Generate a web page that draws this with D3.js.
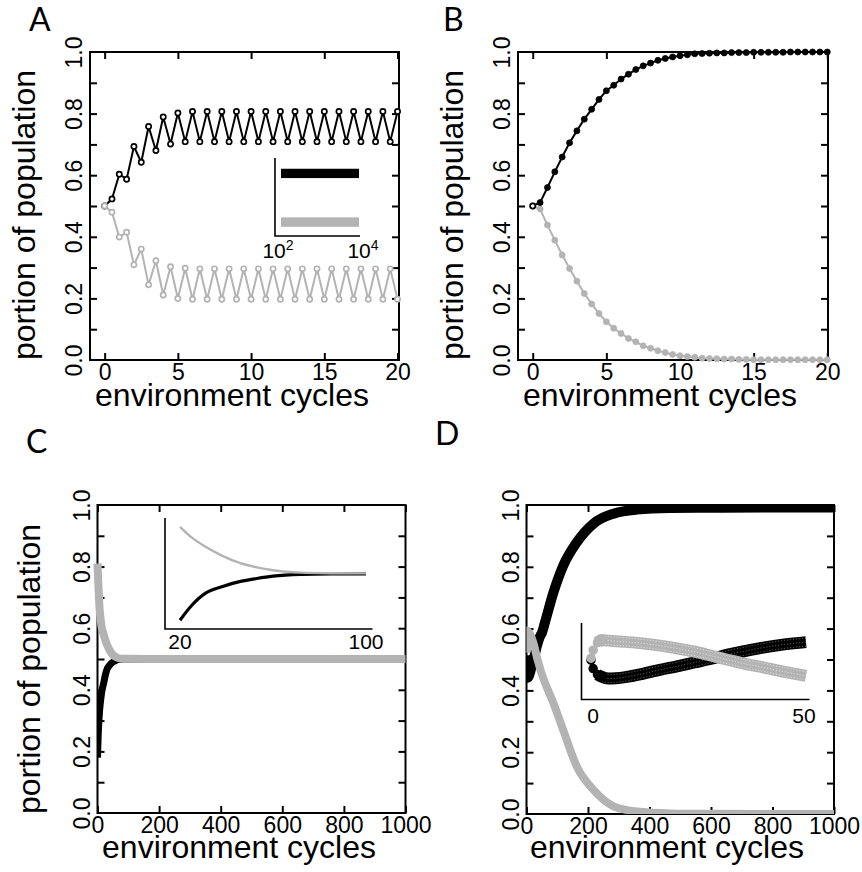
<!DOCTYPE html>
<html>
<head>
<meta charset="utf-8">
<script src="https://cdn.jsdelivr.net/npm/d3@7"></script>
<style>
  body { margin: 0; background: #fff; }
  svg { display: block; }
</style>
</head>
<body>
<script>
// ---------- data ----------
// panels A and B: sampled every half cycle
var cyclesAB = [0, 0.5, 1, 1.5, 2, 2.5, 3, 3.5, 4, 4.5, 5, 5.5, 6, 6.5, 7, 7.5, 8, 8.5, 9, 9.5,
                10, 10.5, 11, 11.5, 12, 12.5, 13, 13.5, 14, 14.5, 15, 15.5, 16, 16.5, 17, 17.5,
                18, 18.5, 19, 19.5, 20];

var aBlack = [0.5, 0.523, 0.603, 0.587, 0.693, 0.642, 0.758, 0.680, 0.789, 0.701, 0.802, 0.709,
              0.807, 0.709, 0.807, 0.709, 0.807, 0.709, 0.807, 0.709, 0.807, 0.709, 0.807, 0.709,
              0.807, 0.709, 0.807, 0.709, 0.807, 0.709, 0.807, 0.709, 0.807, 0.709, 0.807, 0.709,
              0.807, 0.709, 0.807, 0.709, 0.807];
var aGray = [0.5, 0.480, 0.399, 0.415, 0.309, 0.360, 0.244, 0.322, 0.211, 0.303, 0.200, 0.298,
             0.197, 0.296, 0.197, 0.296, 0.197, 0.296, 0.197, 0.296, 0.197, 0.296, 0.197, 0.296,
             0.197, 0.296, 0.197, 0.296, 0.197, 0.296, 0.197, 0.296, 0.197, 0.296, 0.197, 0.296,
             0.197, 0.296, 0.197, 0.296, 0.197];

// inset of A: long run, 10^2 .. 10^4 cycles, oscillation bands
var insetASpan = [100, 10000];
var insetABlackBand = [0.709, 0.807];
var insetAGrayBand = [0.197, 0.296];

var bBlack = [0.5, 0.511, 0.560, 0.611, 0.659, 0.705, 0.744, 0.782, 0.814, 0.846, 0.874, 0.892,
              0.912, 0.928, 0.943, 0.955, 0.964, 0.973, 0.979, 0.984, 0.988, 0.991, 0.994, 0.995,
              0.996, 0.997, 0.997, 0.998, 0.998, 0.998, 0.999, 0.999, 0.999, 0.999, 0.999, 1,
              1, 1, 1, 1, 1];
var bGray = [0.5, 0.490, 0.438, 0.389, 0.341, 0.297, 0.256, 0.216, 0.182, 0.151, 0.124, 0.103,
             0.086, 0.070, 0.059, 0.046, 0.038, 0.030, 0.024, 0.018, 0.014, 0.011, 0.009, 0.006,
             0.005, 0.004, 0.003, 0.003, 0.002, 0.002, 0.001, 0.001, 0.001, 0.001, 0.001, 0.001,
             0.001, 0.001, 0.001, 0.001, 0.001];

// panel C
var cCycles = [0, 2, 4, 7, 10, 14, 20, 25, 31, 38, 46, 53, 60, 72, 85, 100, 200, 400, 600, 800, 1000];
var cGray = [0.81, 0.76, 0.715, 0.66, 0.63, 0.60, 0.58, 0.562, 0.546, 0.531, 0.518, 0.511,
             0.506, 0.502, 0.501, 0.5007, 0.5, 0.5, 0.5, 0.5, 0.5];
var cBlack = [0.18, 0.245, 0.29, 0.335, 0.365, 0.395, 0.421, 0.446, 0.467, 0.478, 0.487, 0.492,
              0.496, 0.499, 0.4998, 0.5, 0.5, 0.5, 0.5, 0.5, 0.5];
var insetCRange = [20, 100];

// panel D
var dCycles = [0, 0.5, 1.5, 2.5, 4, 8, 12, 16, 20, 24, 28, 32, 36, 40, 45, 50,
               60, 87, 120, 164, 218, 283, 359, 468, 600, 800, 1000];
var dGray = [0.522, 0.554, 0.584, 0.594, 0.592, 0.587, 0.581, 0.572, 0.561, 0.548, 0.532, 0.515,
             0.499, 0.486, 0.468, 0.452,
             0.425, 0.36, 0.27, 0.153, 0.078, 0.025, 0.008, 0.002, 0.0005, 0, 0];
var dBlack = [0.514, 0.481, 0.457, 0.448, 0.441, 0.447, 0.460, 0.476, 0.490, 0.505, 0.520, 0.537,
              0.551, 0.564, 0.577, 0.586,
              0.62, 0.715, 0.805, 0.88, 0.94, 0.972, 0.985, 0.99, 0.991, 0.992, 0.992];
var insetDRange = [0, 50];

var xTicksAB = [0, 5, 10, 15, 20],
    xTicksCD = [0, 200, 400, 600, 800, 1000],
    yMinor = [0.1, 0.2, 0.3, 0.4, 0.5, 0.6, 0.7, 0.8, 0.9],
    yLabels = [0, 0.2, 0.4, 0.6, 0.8, 1.0];

// ---------- drawing ----------
var width = 862,
    height = 872,
    GRAY = '#b3b3b3',
    FONT = '"Liberation Sans", Arial, Helvetica, sans-serif',
    svg = d3.select('body').append('svg')
        .attr('width', width)
        .attr('height', height);

function zip(xs, ys) {
    return xs.map(function (d, i) { return {x: d, y: ys[i]}; });
}

// box with inward ticks on all four sides, labels outside
function frame(x, y, xTicks, xTitlePos, yTitlePos) {
    var g = svg.append('g');
    var x0 = x.range()[0], x1 = x.range()[1],
        y0 = y.range()[1], y1 = y.range()[0];

    var tl = 7;
    g.append('g').attr('transform', 'translate(' + x0 + ',0)')
        .call(d3.axisLeft(y).tickValues(yMinor).tickSize(-tl).tickFormat(''));
    g.append('g').attr('transform', 'translate(' + x1 + ',0)')
        .call(d3.axisRight(y).tickValues(yMinor).tickSize(-tl).tickFormat(''));
    g.append('g').attr('transform', 'translate(0,' + y0 + ')')
        .call(d3.axisTop(x).tickValues(xTicks).tickSize(-tl).tickFormat(''));
    g.append('g').attr('transform', 'translate(0,' + y1 + ')')
        .call(d3.axisBottom(x).tickValues(xTicks).tickSize(-tl).tickFormat(''));
    g.selectAll('.domain').remove();
    g.selectAll('.tick line').attr('stroke', '#000').attr('stroke-width', 2);

    // x labels
    var xl = g.append('g').attr('transform', 'translate(0,' + y1 + ')')
        .call(d3.axisBottom(x).tickValues(xTicks).tickSize(0).tickPadding(4)
              .tickFormat(d3.format('d')));
    // y labels, rotated
    var yl = g.append('g').attr('transform', 'translate(' + x0 + ',0)')
        .call(d3.axisLeft(y).tickValues(yLabels).tickSize(0).tickFormat(d3.format('.1f')));
    yl.selectAll('text')
        .attr('transform', 'rotate(-90)')
        .attr('x', 0).attr('y', -8).attr('dy', 0)
        .attr('text-anchor', 'middle');
    [xl, yl].forEach(function (a) {
        a.select('.domain').remove();
        a.attr('font-family', FONT).attr('font-size', 23);
        a.selectAll('text').attr('fill', '#000');
    });

    g.append('rect')
        .attr('x', x0).attr('y', y0)
        .attr('width', x1 - x0).attr('height', y1 - y0)
        .attr('fill', 'none').attr('stroke', '#000').attr('stroke-width', 2);

    g.append('text')
        .attr('x', xTitlePos[0]).attr('y', xTitlePos[1])
        .attr('text-anchor', 'middle')
        .attr('font-family', FONT).attr('font-size', 32)
        .text('environment cycles');
    if (yTitlePos) {
        g.append('text')
            .attr('transform', 'translate(' + yTitlePos[0] + ',' + yTitlePos[1] + ') rotate(-90)')
            .attr('text-anchor', 'middle')
            .attr('font-family', FONT).attr('font-size', 32)
            .text('portion of population');
    }
}

function letter(t, px, py) {
    svg.append('text')
        .attr('x', px).attr('y', py)
        .attr('font-family', 'Lato, "Noto Sans", sans-serif')
        .attr('font-size', 32)
        .text(t);
}

function insetAxes(box) {
    svg.append('path')
        .attr('d', 'M' + box.x0 + ',' + box.y0 + 'V' + box.y1 + 'H' + box.x1)
        .attr('fill', 'none').attr('stroke', '#000').attr('stroke-width', 1.6);
}

function insetLabel(txt, px, py, sup) {
    var t = svg.append('text')
        .attr('x', px).attr('y', py)
        .attr('text-anchor', 'middle')
        .attr('font-family', FONT).attr('font-size', 21)
        .text(txt);
    if (sup) {
        t.append('tspan').attr('dy', -8).attr('font-size', 14).text(sup);
    }
}

function clipFor(id, x, y) {
    svg.append('clipPath').attr('id', id).append('rect')
        .attr('x', x.range()[0]).attr('y', y.range()[1])
        .attr('width', x.range()[1] - x.range()[0])
        .attr('height', y.range()[0] - y.range()[1]);
    return 'url(#' + id + ')';
}

// ---------- panel A ----------
(function () {
    var x = d3.scaleLinear().domain([-1, 20.1]).range([90, 399]),
        y = d3.scaleLinear().domain([0, 1]).range([360, 52]);
    frame(x, y, xTicksAB, [232, 406], [35, 215]);
    letter('A', 29, 31);

    var line = d3.line().x(function (d) { return x(d.x); }).y(function (d) { return y(d.y); });
    var series = [{v: aBlack, c: '#000'}, {v: aGray, c: GRAY}];
    series.forEach(function (s) {
        var pts = zip(cyclesAB, s.v);
        svg.append('path').datum(pts).attr('d', line)
            .attr('fill', 'none').attr('stroke', s.c).attr('stroke-width', 2);
        svg.append('g').selectAll('circle').data(pts).enter().append('circle')
            .attr('cx', function (d) { return x(d.x); })
            .attr('cy', function (d) { return y(d.y); })
            .attr('r', 2.6)
            .attr('fill', '#fff').attr('stroke', s.c).attr('stroke-width', 1.7);
    });

    // inset
    var box = {x0: 275, x1: 360, y0: 158, y1: 236};
    var xi = d3.scaleLog().domain(insetASpan).range([281, 359]),
        yi = d3.scaleLinear().domain([0.1, 0.92]).range([box.y1, box.y0]);
    insetAxes(box);
    [{b: insetABlackBand, c: '#000'}, {b: insetAGrayBand, c: GRAY}].forEach(function (s) {
        svg.append('rect')
            .attr('x', xi(insetASpan[0])).attr('width', xi(insetASpan[1]) - xi(insetASpan[0]))
            .attr('y', yi(s.b[1])).attr('height', yi(s.b[0]) - yi(s.b[1]))
            .attr('fill', s.c);
    });
    insetLabel('10', xi(insetASpan[0]) - 3, 258, '2');
    insetLabel('10', xi(insetASpan[1]) + 4, 258, '4');
})();

// ---------- panel B ----------
(function () {
    var x = d3.scaleLinear().domain([-1, 20.05]).range([518, 828]),
        y = d3.scaleLinear().domain([0, 1]).range([360, 52]);
    frame(x, y, xTicksAB, [660, 406], [463, 215]);
    letter('B', 443, 31);

    var line = d3.line().x(function (d) { return x(d.x); }).y(function (d) { return y(d.y); });
    [{v: bGray, c: GRAY}, {v: bBlack, c: '#000'}].forEach(function (s) {
        var pts = zip(cyclesAB, s.v);
        svg.append('path').datum(pts).attr('d', line)
            .attr('fill', 'none').attr('stroke', s.c).attr('stroke-width', 2);
        svg.append('g').selectAll('circle').data(pts).enter().append('circle')
            .attr('cx', function (d) { return x(d.x); })
            .attr('cy', function (d) { return y(d.y); })
            .attr('r', function (d, i) { return i === 0 ? 2.6 : 3; })
            .attr('fill', function (d, i) { return i === 0 ? '#fff' : s.c; })
            .attr('stroke', s.c).attr('stroke-width', function (d, i) { return i === 0 ? 1.7 : 0.8; });
    });
})();

// ---------- panel C ----------
(function () {
    var x = d3.scaleLinear().domain([0, 1000]).range([97.5, 405.5]),
        y = d3.scaleLinear().domain([0, 1]).range([813, 505]);
    frame(x, y, xTicksCD, [239, 858], [40, 669]);
    letter('C', 26, 453);

    var clip = clipFor('clipC', x, y);
    var line = d3.line().curve(d3.curveMonotoneX)
        .x(function (d) { return x(d.x); }).y(function (d) { return y(d.y); });
    svg.append('path').datum(zip(cCycles, cBlack)).attr('d', line).attr('clip-path', clip)
        .attr('fill', 'none').attr('stroke', '#000').attr('stroke-width', 7)
        .attr('stroke-linejoin', 'round');
    svg.append('path').datum(zip(cCycles, cGray)).attr('d', line)
        .attr('fill', 'none').attr('stroke', GRAY).attr('stroke-width', 8)
        .attr('stroke-linejoin', 'round');

    // inset: cycles 20..100
    var box = {x0: 165, x1: 372.5, y0: 518, y1: 629};
    var xi = d3.scaleLinear().domain(insetCRange).range([180, 366]),
        yi = d3.scaleLinear().domain([0.406, 0.595]).range([box.y1, box.y0]);
    insetAxes(box);
    var inRange = function (d) { return d.x >= insetCRange[0] && d.x <= insetCRange[1]; };
    var li = d3.line().curve(d3.curveMonotoneX)
        .x(function (d) { return xi(d.x); }).y(function (d) { return yi(d.y); });
    svg.append('path').datum(zip(cCycles, cBlack).filter(inRange)).attr('d', li)
        .attr('fill', 'none').attr('stroke', '#000').attr('stroke-width', 3.2);
    svg.append('path').datum(zip(cCycles, cGray).filter(inRange)).attr('d', li)
        .attr('fill', 'none').attr('stroke', GRAY).attr('stroke-width', 2.4);
    insetLabel('20', xi(insetCRange[0]), 649);
    insetLabel('100', xi(insetCRange[1]), 649);
})();

// ---------- panel D ----------
(function () {
    var x = d3.scaleLinear().domain([0, 1000]).range([526.5, 834]),
        y = d3.scaleLinear().domain([0, 1]).range([814, 505]);
    frame(x, y, xTicksCD, [667, 858], null);
    letter('D', 435, 445);

    var clip = clipFor('clipD', x, y);
    var line = d3.line().curve(d3.curveMonotoneX)
        .x(function (d) { return x(d.x); }).y(function (d) { return y(d.y); });
    svg.append('path').datum(zip(dCycles, dBlack)).attr('d', line).attr('clip-path', clip)
        .attr('fill', 'none').attr('stroke', '#000').attr('stroke-width', 10)
        .attr('stroke-linejoin', 'round');
    svg.append('path').datum(zip(dCycles, dGray)).attr('d', line).attr('clip-path', clip)
        .attr('fill', 'none').attr('stroke', GRAY).attr('stroke-width', 8)
        .attr('stroke-linejoin', 'round');

    // inset: cycles 0..50
    var box = {x0: 581.5, x1: 809.5, y0: 623, y1: 699.5};
    var xi = d3.scaleLinear().domain(insetDRange).range([591, 806]),
        yi = d3.scaleLinear().domain([0.358, 0.662]).range([box.y1, box.y0]);
    insetAxes(box);
    var inRange = function (d) { return d.x >= insetDRange[0] && d.x <= insetDRange[1]; };
    [{v: dBlack, c: '#000', dot: 'rgba(255,255,255,0.45)'},
     {v: dGray, c: GRAY, dot: 'rgba(255,255,255,0.7)'}].forEach(function (s) {
        var pts = zip(dCycles, s.v).filter(inRange);
        var band = d3.line().curve(d3.curveMonotoneX)
            .x(function (d) { return xi(d.x); }).y(function (d) { return yi(d.y); });
        svg.append('path').datum(pts.filter(function (d) { return d.x >= 1.5; })).attr('d', band)
            .attr('fill', 'none').attr('stroke', s.c).attr('stroke-width', 12);
        // dotted texture of the overlapping point markers
        [-4, 0, 4].forEach(function (off) {
            var tex = d3.line().curve(d3.curveMonotoneX)
                .x(function (d) { return xi(d.x); }).y(function (d) { return yi(d.y) + off; });
            svg.append('path').datum(pts.filter(function (d) { return d.x >= 2.5; })).attr('d', tex)
                .attr('fill', 'none').attr('stroke', s.dot).attr('stroke-width', 0.8)
                .attr('stroke-dasharray', '1.2 1.8');
        });
        svg.append('g').selectAll('circle').data(pts.filter(function (d) { return d.x <= 2.5; }))
            .enter().append('circle')
            .attr('cx', function (d) { return xi(d.x); })
            .attr('cy', function (d) { return yi(d.y); })
            .attr('r', 4)
            .attr('fill', s.c).attr('stroke', s.c).attr('stroke-width', 1.5);
    });
    insetLabel('0', xi(insetDRange[0]) + 2, 723);
    insetLabel('50', xi(insetDRange[1]) - 2, 723);
})();
</script>
</body>
</html>
